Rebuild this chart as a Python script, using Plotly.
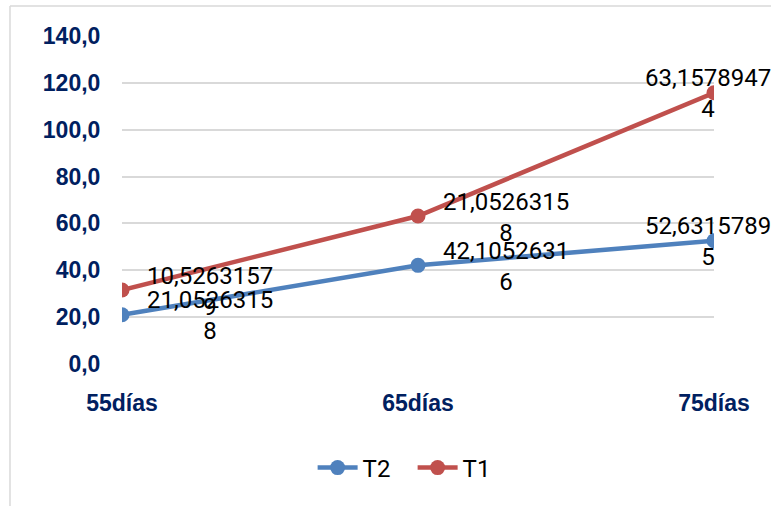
import plotly.graph_objects as go
import numpy as np

categories = ["55días", "65días", "75días"]
t2_values = [21.0526315789, 42.1052631579, 52.6315789474]
t1_values = [10.5263157895, 21.0526315789, 63.1578947368]
t2_labels = ["21,0526315<br>8", "42,1052631<br>6", "52,6315789<br>5"]
t1_labels = ["10,5263157<br>9", "21,0526315<br>8", "63,1578947<br>4"]
y_ticks = [0, 20, 40, 60, 80, 100, 120, 140]

blue = "#4F81BD"
red = "#C0504D"
navy = "#002060"

t1_stacked = list(np.add(t2_values, t1_values))

fig = go.Figure()
fig.add_trace(go.Scatter(x=categories, y=t2_values, name="T2", mode="lines+markers",
                         line=dict(color=blue, width=4.5), marker=dict(size=15, color=blue)))
fig.add_trace(go.Scatter(x=categories, y=t1_stacked, name="T1", mode="lines+markers",
                         line=dict(color=red, width=4.5), marker=dict(size=15, color=red)))

label_font = dict(family="Roboto, sans-serif", size=24, color="#000000")
shifts = [88, 88, -6]
for i, c in enumerate(categories):
    fig.add_annotation(x=c, y=t2_values[i], text=t2_labels[i], showarrow=False,
                       xshift=shifts[i], yshift=-1, font=label_font, align="center",
                       xanchor="center", yanchor="middle")
    fig.add_annotation(x=c, y=t1_stacked[i], text=t1_labels[i], showarrow=False,
                       xshift=shifts[i], yshift=-1, font=label_font, align="center",
                       xanchor="center", yanchor="middle")

# chart border (left and top visible)
fig.add_shape(type="line", xref="paper", yref="paper", x0=-0.1892, x1=1.2, y0=1.0915, y1=1.0915,
              line=dict(color="#D9D9D9", width=1.5))
fig.add_shape(type="line", xref="paper", yref="paper", x0=-0.1892, x1=-0.1892, y0=1.0915, y1=-0.6,
              line=dict(color="#D9D9D9", width=1.5))

fig.update_layout(
    width=771, height=506,
    margin=dict(l=122, r=57, t=36, b=142),
    plot_bgcolor="white", paper_bgcolor="white",
    separators=",.",
    showlegend=True,
    legend=dict(orientation="h", x=0.322, xanchor="left", y=-0.317, yanchor="middle",
                entrywidth=45, itemwidth=40,
                font=dict(family="Roboto, sans-serif", size=24, color="#000000"),
                traceorder="normal"),
    xaxis=dict(type="category", range=[0, 2], showgrid=False, zeroline=False, showline=False,
               ticks="outside", ticklen=18, tickcolor="rgba(0,0,0,0)",
               tickfont=dict(family="Liberation Sans, Arial, sans-serif", size=23, color=navy, weight="bold")),
    yaxis=dict(range=[0, 140], tickvals=y_ticks, tickformat=".1f", showgrid=True,
               gridcolor="#D9D9D9", gridwidth=1.5, zeroline=False, showline=False,
               ticks="outside", ticklen=16, tickcolor="rgba(0,0,0,0)",
               tickfont=dict(family="Liberation Sans, Arial, sans-serif", size=23, color=navy, weight="bold")),
)

fig.write_html("out.html")
